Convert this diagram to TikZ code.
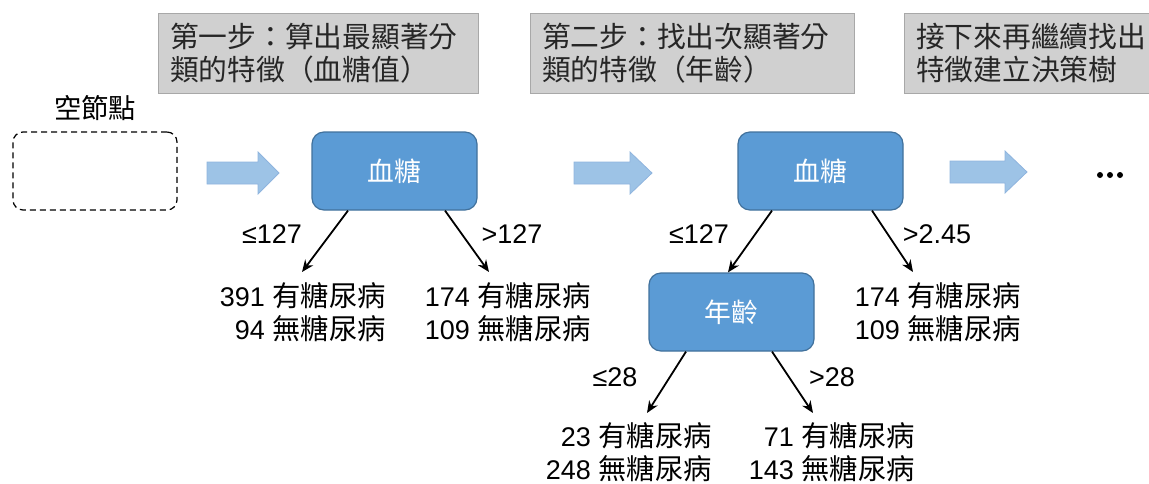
\documentclass[tikz,border=0pt]{standalone}
\usepackage{fontspec}
\setmainfont{Liberation Sans}
\newfontfamily\cjk[Scale=1.05]{Noto Sans CJK TC}
\usetikzlibrary{arrows.meta}
\definecolor{nodeblue}{HTML}{5B9BD5}
\definecolor{nodeborder}{HTML}{41719C}
\definecolor{arrowblue}{HTML}{9DC3E6}
\definecolor{arrowborder}{HTML}{8FB4DE}
\definecolor{boxgray}{HTML}{D0D0D0}
\definecolor{boxborder}{HTML}{A8A8A8}
\begin{document}
\begin{tikzpicture}[x=1pt,y=-1pt,
 stepnote/.style={draw=boxborder, fill=boxgray, line width=1pt, minimum height=80pt, inner xsep=12pt, inner ysep=0pt, align=left, font=\fontsize{27.4}{33}\selectfont\cjk, text=black!85},
 feat/.style={draw=nodeborder, fill=nodeblue, line width=1.2pt, rounded corners=12pt, minimum width=165pt, minimum height=78pt, text=white, font=\fontsize{25.5}{30}\selectfont\cjk},
 leaf/.style={align=right, inner sep=0pt, font=\fontsize{27}{33}\selectfont},
 cond/.style={inner sep=0pt, font=\fontsize{27}{33}\selectfont},
 edge/.style={-{Stealth[length=12pt,width=10pt]}, line width=1.8pt},
 barrow/.style={fill=arrowblue, draw=arrowborder, line width=0.8pt},
 dot/.style={fill=black, draw=none, circle, inner sep=0pt, minimum size=6pt},
]
\useasboundingbox (0,0) rectangle (1149,483);

% step notes
\node[stepnote, text width=296pt] (s1) at (318,53) {第一步：算出最顯著分\\類的特徵（血糖值）};
\node[stepnote, text width=300pt] (s2) at (692,53) {第二步：找出次顯著分\\類的特徵（年齡）};
\node[stepnote, text width=221pt] (s3) at (1026.5,53) {接下來再繼續找出\\特徵建立決策樹};

% empty node
\node[font=\fontsize{26}{30}\selectfont\cjk] (emptylbl) at (95,108) {空節點};
\node[draw, dashed, dash pattern=on 6pt off 4pt, line width=1.2pt, rounded corners=10pt, minimum width=164pt, minimum height=78pt] (empty) at (95,171) {};

% block arrows
\draw[barrow] (207,162) -- (258,162) -- (258,152) -- (279,173) -- (258,194) -- (258,184) -- (207,184) -- cycle;
\draw[barrow] (574,162) -- (630,162) -- (630,152) -- (652,173) -- (630,194) -- (630,184) -- (574,184) -- cycle;
\draw[barrow] (950,161) -- (1005,161) -- (1005,151) -- (1027,172) -- (1005,193) -- (1005,183) -- (950,183) -- cycle;
\node[dot] (d1) at (1100,175) {};
\node[dot] (d2) at (1110,175) {};
\node[dot] (d3) at (1120,175) {};

% feature nodes
\node[feat] (n1) at (394.5,171) {血糖};
\node[feat] (n2) at (820.5,171) {血糖};
\node[feat] (age) at (731.5,312) {年齡};

% leaves
\node[leaf, anchor=east] (l1) at (386,312) {391 {\cjk 有糖尿病}\\94 {\cjk 無糖尿病}};
\node[leaf, anchor=east] (l2) at (591,312) {174 {\cjk 有糖尿病}\\109 {\cjk 無糖尿病}};
\node[leaf, anchor=east] (l3) at (1021,312) {174 {\cjk 有糖尿病}\\109 {\cjk 無糖尿病}};
\node[leaf, anchor=east] (l4) at (712,452) {23 {\cjk 有糖尿病}\\248 {\cjk 無糖尿病}};
\node[leaf, anchor=east] (l5) at (915,452) {71 {\cjk 有糖尿病}\\143 {\cjk 無糖尿病}};

% arrow tips
\coordinate (t1) at (302,272);
\coordinate (t2) at (489,272);
\coordinate (t3) at (913,272);
\coordinate (t4) at (647,413);
\coordinate (t5) at (813,413);

% edges
\draw[edge] ([xshift=-46.5pt]n1.south) -- (t1);
\draw[edge] ([xshift=50.5pt]n1.south) -- (t2);
\draw[edge] ([xshift=-48.5pt]n2.south) -- ([xshift=-3.5pt]age.north);
\draw[edge] ([xshift=51.5pt]n2.south) -- (t3);
\draw[edge] ([xshift=-45.5pt]age.south) -- (t4);
\draw[edge] ([xshift=40.5pt]age.south) -- (t5);

% conditions
\node[cond] (c1) at (272,234) {≤127};
\node[cond] (c2) at (512,234) {>127};
\node[cond] (c3) at (699,234) {≤127};
\node[cond] (c4) at (937,234) {>2.45};
\node[cond] (c5) at (615,377) {≤28};
\node[cond] (c6) at (832,377) {>28};
\end{tikzpicture}
\end{document}
